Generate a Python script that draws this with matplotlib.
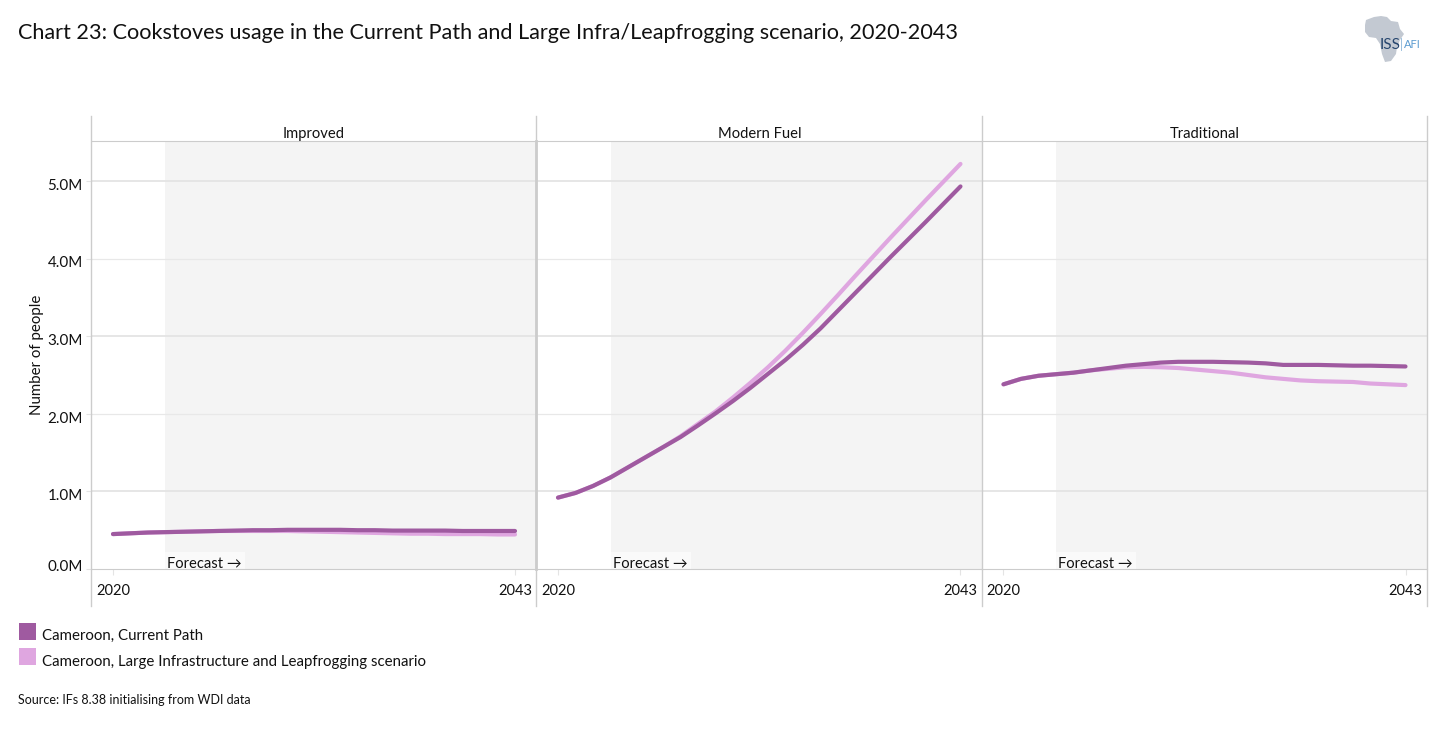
"""Chart 23: cookstove usage, three small panels sharing a y axis."""

import matplotlib
matplotlib.use('Agg')
import matplotlib.pyplot as plt
from matplotlib.patches import Polygon, Rectangle
from matplotlib.transforms import ScaledTranslation

plt.rcParams['font.family'] = ['Lato', 'DejaVu Sans']

W, H = 1443, 729

years = list(range(2020, 2044))
panels = ['Improved', 'Modern Fuel', 'Traditional']

improved_cp = [.45, .46, .47, .475, .48, .485, .49, .495, .50, .50, .505, .505,
               .505, .505, .50, .50, .495, .495, .495, .495, .49, .49, .49, .49]
improved_li = [.45, .46, .47, .475, .48, .485, .49, .49, .49, .49, .49, .485,
               .48, .475, .47, .465, .46, .455, .455, .45, .45, .45, .445, .445]
modern_cp = [.92, .98, 1.07, 1.18, 1.31, 1.44, 1.57, 1.70, 1.85, 2.005, 2.165, 2.335,
             2.515, 2.695, 2.89, 3.10, 3.33, 3.56, 3.79, 4.02, 4.245, 4.47, 4.70, 4.93]
modern_li = [.92, .98, 1.07, 1.18, 1.31, 1.44, 1.57, 1.71, 1.87, 2.03, 2.21, 2.40,
             2.60, 2.815, 3.045, 3.285, 3.53, 3.78, 4.025, 4.27, 4.51, 4.75, 4.985, 5.22]
trad_cp = [2.38, 2.45, 2.49, 2.51, 2.53, 2.56, 2.59, 2.62, 2.64, 2.66, 2.67, 2.67,
           2.67, 2.665, 2.66, 2.65, 2.63, 2.63, 2.63, 2.625, 2.62, 2.62, 2.615, 2.61]
trad_li = [2.38, 2.45, 2.49, 2.51, 2.53, 2.56, 2.58, 2.60, 2.605, 2.60, 2.59, 2.57,
           2.55, 2.53, 2.50, 2.47, 2.45, 2.43, 2.42, 2.415, 2.41, 2.39, 2.38, 2.37]
series_cp = [improved_cp, modern_cp, trad_cp]
series_li = [improved_li, modern_li, trad_li]

y_ticks = [0, 1, 2, 3, 4, 5]
y_labels = ['0.0M', '1.0M', '2.0M', '3.0M', '4.0M', '5.0M']

CP_COLOR = '#9f5aa0'
LI_COLOR = '#dfa6e0'
LINE_GREY = '#cccccc'

# panel edges in pixels
edges = [91.5, 536.5, 982, 1427]
plot_top, plot_bottom = 141, 569
px_per_m = 77.6


def fx(x):
    return x / W


def fy(y):
    return 1 - y / H


fig = plt.figure(figsize=(W / 100, H / 100), dpi=100)

for i, name in enumerate(panels):
    left, right = edges[i], edges[i + 1]
    ax = fig.add_axes([fx(left), fy(plot_bottom), fx(right - left), (plot_bottom - plot_top) / H])
    ax.set_xlim(2020 - 21.5 / 17.48, 2043 + 21.5 / 17.48)
    ax.set_ylim(0, (plot_bottom - plot_top) / px_per_m)
    ax.axvspan(2023, ax.get_xlim()[1], color='#f4f4f4', lw=0, zorder=0)
    for t in y_ticks[1:]:
        ax.axhline(t, color='#e4e4e4' if t % 2 else '#e8e8e8', lw=1.3 if t % 2 else 0.9, zorder=1)

    # white tag behind the forecast label
    ax.add_patch(Rectangle((2023, 0), 80 / 17.48, 17 / px_per_m, fc='#fafafa', ec='none', zorder=2))
    ax.text(2023 + 2 / 17.48, -0.02, 'Forecast \u2192', fontsize=10.6, color='#111111',
            va='bottom', ha='left', zorder=3)

    ax.plot(years, series_li[i], color=LI_COLOR, lw=3, solid_capstyle='round', zorder=4)
    ax.plot(years, series_cp[i], color=CP_COLOR, lw=3, solid_capstyle='round', zorder=5)

    ax.set_xticks([2020, 2043])
    ax.set_xticklabels(['2020', '2043'], fontsize=10.5, color='#111111')
    ax.tick_params(axis='x', length=4, color='#e4e4e4', pad=7)
    ax.set_yticks(y_ticks)
    if i == 0:
        ax.set_yticklabels(y_labels, fontsize=10.9, color='#111111')
        ax.tick_params(axis='y', length=4.3, color='#e4e4e4', pad=2)
        # the labels sit a little under their gridlines, 0.0M is pushed up to stay on the axis
        for t, label in zip(y_ticks, ax.get_yticklabels()):
            shift = 3.3 if t == 0 else -3.3
            label.set_transform(label.get_transform() + ScaledTranslation(0, shift / 100, fig.dpi_scale_trans))
        ax.set_ylabel('Number of people', fontsize=10.8, color='#111111', labelpad=0)
        ax.yaxis.set_label_coords((44 - left) / (right - left), 0.5)
    else:
        ax.tick_params(axis='y', length=0, labelleft=False)
    for side in ['left', 'right']:
        ax.spines[side].set_visible(False)
    ax.spines['top'].set_color(LINE_GREY)
    ax.spines['bottom'].set_color(LINE_GREY)

    fig.text(fx((left + right) / 2), fy(134), name, fontsize=10.6, color='#111111',
             ha='center', va='center')

# panel dividers run from the header down past the axis
for x in [91, 536, 981.5, 1426.5]:
    fig.add_artist(plt.Line2D([fx(x), fx(x)], [fy(116), fy(606)], color=LINE_GREY, lw=1))
fig.add_artist(plt.Line2D([fx(535.5), fx(535.5)], [fy(141), fy(569)], color=LINE_GREY, lw=2))

fig.text(fx(18), fy(33), 'Chart 23: Cookstoves usage in the Current Path and Large Infra/Leapfrogging scenario, 2020-2043',
         fontsize=15.62, color='#111111', va='center', ha='left')

# legend
fig.add_artist(Rectangle((fx(19), fy(640)), 17 / W, 17 / H, fc=CP_COLOR, ec='none'))
fig.add_artist(Rectangle((fx(19), fy(665)), 17 / W, 17 / H, fc=LI_COLOR, ec='none'))
fig.text(fx(42), fy(636), 'Cameroon, Current Path', fontsize=10.8, color='#111111', va='center')
fig.text(fx(42), fy(662), 'Cameroon, Large Infrastructure and Leapfrogging scenario', fontsize=10.8,
         color='#111111', va='center')
fig.text(fx(18), fy(700), 'Source: IFs 8.38 initialising from WDI data', fontsize=9, color='#111111', va='center')

# ISS logo: rough Africa outline with the wordmark on top
africa = [(1366, 20), (1374, 17), (1381, 16), (1387, 17), (1391, 21), (1398, 22), (1400, 29), (1404, 34),
          (1400, 40), (1397, 47), (1396, 54), (1391, 61), (1385, 62), (1382, 54), (1380, 44), (1376, 38),
          (1369, 37), (1365, 32), (1365, 25)]
fig.add_artist(Polygon([(fx(a), fy(b)) for a, b in africa], closed=True, fc='#c3c9d2', ec='none'))
fig.text(fx(1380), fy(45), 'ISS', fontsize=11, color='#27466e', va='center', ha='left')
fig.text(fx(1403.5), fy(45), 'AFI', fontsize=8, color='#5b9bd0', va='center', ha='left')
fig.add_artist(plt.Line2D([fx(1401), fx(1401)], [fy(38), fy(50)], color='#8ab4d8', lw=0.6))

fig.savefig('out.png', dpi=100)
